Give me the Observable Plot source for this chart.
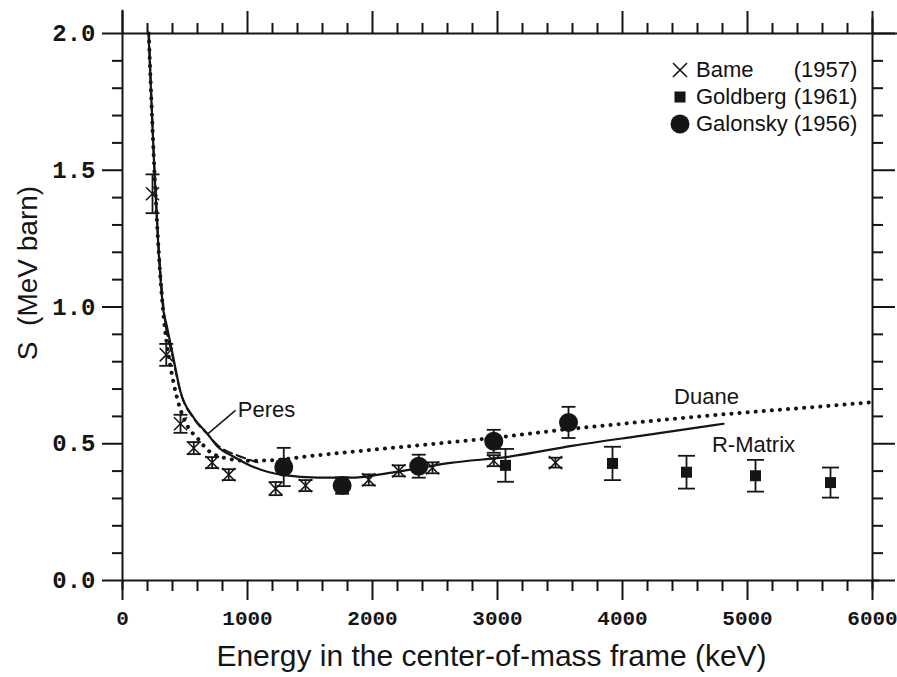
<!DOCTYPE html>
<html>
<head>
<meta charset="utf-8">
<script src="https://cdn.jsdelivr.net/npm/d3@7"></script>
<script src="https://cdn.jsdelivr.net/npm/@observablehq/plot@0.6"></script>
<style>
  html, body { margin: 0; padding: 0; background: #fff; }
  #chart { position: relative; width: 897px; height: 677px; overflow: hidden; }
  #legend {
    position: absolute; left: 664px; top: 56px;
    font-family: "Liberation Sans", Arial, sans-serif; font-size: 22px; color: #111;
    border-collapse: collapse;
  }
  #legend td { padding: 0; height: 27px; line-height: 27px; vertical-align: middle; }
  #legend td.sym { width: 32px; text-align: center; }
  #legend td.sym svg { display: block; margin: 0 auto; }
  #legend td.yr { text-align: right; padding-left: 6px; }
</style>
</head>
<body>
<div id="chart"></div>
<script>
// Bame (1957): energy (keV), S-factor (MeV barn), error
const bameE   = [240, 350, 464, 570, 717, 850, 1225, 1464, 1970, 2210, 2480, 2970, 3464];
const bameS   = [1.414, 0.825, 0.573, 0.484, 0.431, 0.387, 0.336, 0.347, 0.368, 0.401, 0.412, 0.438, 0.431];
const bameErr = [0.071, 0.040, 0.033, 0.022, 0.020, 0.020, 0.024, 0.020, 0.020, 0.020, 0.020, 0.020, 0.018];

// Goldberg (1961)
const goldE   = [3064, 3920, 4512, 5064, 5664];
const goldS   = [0.421, 0.428, 0.396, 0.383, 0.358];
const goldErr = [0.060, 0.061, 0.060, 0.058, 0.055];

// Galonsky (1956)
const galE   = [1290, 1757, 2370, 2970, 3568];
const galS   = [0.415, 0.347, 0.418, 0.509, 0.578];
const galErr = [0.070, 0.030, 0.042, 0.042, 0.057];

// R-Matrix fit (solid)
const rmatE = [208, 255, 288, 328, 350, 400, 464, 570, 680, 760, 900, 1024, 1290, 1560, 1824, 2090, 2360, 2624, 3080, 3608, 4144, 4808];
const rmatS = [2.0, 1.5, 1.21, 0.985, 0.94, 0.83, 0.69, 0.595, 0.536, 0.49, 0.45, 0.42, 0.385, 0.376, 0.376, 0.39, 0.41, 0.43, 0.452, 0.493, 0.529, 0.573];

// Duane calculation (dotted)
const duaneE = [210, 250, 290, 330, 370, 410, 460, 520, 600, 700, 800, 1000, 1200, 1500, 2000, 2500, 3000, 3500, 4000, 4500, 5000, 5500, 6000];
const duaneS = [2.0, 1.55, 1.2, 0.96, 0.82, 0.72, 0.63, 0.565, 0.52, 0.47, 0.45, 0.438, 0.44, 0.455, 0.478, 0.5, 0.523, 0.55, 0.573, 0.595, 0.615, 0.633, 0.652];

// Peres calculation (dashed)
const peresE = [212, 256, 330, 400, 470, 570, 680, 768, 920, 1000, 1080];
const peresS = [2.0, 1.5, 0.99, 0.82, 0.68, 0.592, 0.535, 0.492, 0.457, 0.444, 0.432];

// Axis ticks
const xMajor = [0, 1000, 2000, 3000, 4000, 5000, 6000];
const xMinor = d3.range(0, 6001, 200).filter(v => v % 1000 !== 0);
const yMajor = [0, 0.5, 1.0, 1.5, 2.0];
const yMinor = d3.range(0, 2.001, 0.1).map(v => +v.toFixed(1)).filter(v => Math.round(v * 10) % 5 !== 0);

// Legend entries
const legendNames = ["Bame", "Goldberg", "Galonsky"];
const legendYears = ["(1957)", "(1961)", "(1956)"];

// Curve labels (placed in data space)
const curveLabels = [
  {E: 4672, S: 0.672, text: "Duane"},
  {E: 5048, S: 0.497, text: "R-Matrix"},
  {E: 1152, S: 0.622, text: "Peres"}
];
const peresLeader = {E1: 904, S1: 0.622, E2: 680, S2: 0.535};

const zipSeries = (E, S, err) => E.map((e, i) => ({E: e, S: S[i], err: err ? err[i] : 0}));
const bame = zipSeries(bameE, bameS, bameErr);
const gold = zipSeries(goldE, goldS, goldErr);
const gal  = zipSeries(galE, galS, galErr);
const rmat = zipSeries(rmatE, rmatS);
const duane = zipSeries(duaneE, duaneS);
const peres = zipSeries(peresE, peresS);

// horizontal cap for error bars; width follows the dot radius
const capSymbol = {
  draw(context, size) {
    const r = Math.sqrt(size / Math.PI);
    context.moveTo(-r, 0);
    context.lineTo(r, 0);
  }
};

const ink = "#151515";
const monoFont = "'Liberation Mono', 'Courier New', monospace";
const sansFont = "'Liberation Sans', Arial, sans-serif";

function errorBars(data, capR) {
  return [
    Plot.ruleX(data, {x: "E", y1: d => d.S - d.err, y2: d => d.S + d.err, stroke: ink, strokeWidth: 1.8}),
    Plot.dot(data, {x: "E", y: d => d.S + d.err, symbol: capSymbol, r: capR, fill: "none", stroke: ink, strokeWidth: 1.8}),
    Plot.dot(data, {x: "E", y: d => d.S - d.err, symbol: capSymbol, r: capR, fill: "none", stroke: ink, strokeWidth: 1.8})
  ];
}

const chart = Plot.plot({
  width: 897,
  height: 677,
  marginLeft: 122,
  marginRight: 25,
  marginTop: 33,
  marginBottom: 97,
  x: {domain: [0, 6000]},
  y: {domain: [0, 2]},
  style: {background: "transparent", color: ink, overflow: "visible"},
  marks: [
    // frame
    Plot.ruleX([0], {y1: -0.036, y2: 2.085, stroke: ink, strokeWidth: 2}),
    Plot.ruleX([6000], {y1: -0.036, y2: 2.055, stroke: ink, strokeWidth: 2}),
    Plot.ruleY([0], {x1: 0, x2: 6060, stroke: ink, strokeWidth: 2}),
    Plot.ruleY([2], {x1: 0, x2: 6200, stroke: ink, strokeWidth: 2}),

    // ticks: left
    Plot.axisY({anchor: "left", ticks: yMajor, tickSize: 20, label: null, tickFormat: () => "", strokeWidth: 2}),
    Plot.axisY({anchor: "left", ticks: yMinor, tickSize: 10, label: null, tickFormat: () => "", strokeWidth: 2}),
    Plot.text(yMajor, {y: d => d, frameAnchor: "left", dx: -27, textAnchor: "end", text: d => d.toFixed(1),
      fontSize: 24, fontFamily: monoFont, fontWeight: "bold", fill: ink}),
    // ticks: right
    Plot.axisY({anchor: "right", ticks: yMajor, tickSize: 22, label: null, tickFormat: () => "", strokeWidth: 2}),
    Plot.axisY({anchor: "right", ticks: yMinor, tickSize: 10, label: null, tickFormat: () => "", strokeWidth: 2}),
    // ticks: bottom
    Plot.axisX({anchor: "bottom", ticks: xMajor, tickSize: 20, label: null, tickFormat: () => "", strokeWidth: 2}),
    Plot.axisX({anchor: "bottom", ticks: xMinor, tickSize: 11, label: null, tickFormat: () => "", strokeWidth: 2}),
    Plot.text(xMajor, {x: d => d, frameAnchor: "bottom", dy: 38, textAnchor: "middle", lineAnchor: "middle",
      text: d => String(d), fontSize: 21, fontFamily: monoFont, fontWeight: "bold", fill: ink}),
    // ticks: top
    Plot.axisX({anchor: "top", ticks: xMajor, tickSize: 23, label: null, tickFormat: () => "", strokeWidth: 2}),
    Plot.axisX({anchor: "top", ticks: xMinor, tickSize: 11, label: null, tickFormat: () => "", strokeWidth: 2}),

    // theory curves
    Plot.line(duane, {x: "E", y: "S", curve: "monotone-x", stroke: ink, strokeWidth: 4,
      strokeDasharray: "0.1 8", strokeLinecap: "round"}),
    Plot.line(peres, {x: "E", y: "S", curve: "monotone-x", stroke: ink, strokeWidth: 2, strokeDasharray: "9 5"}),
    Plot.line(rmat, {x: "E", y: "S", curve: "monotone-x", stroke: ink, strokeWidth: 2.2}),

    // error bars
    ...errorBars(bame, 7),
    ...errorBars(gal, 7),
    ...errorBars(gold, 8.5),

    // data points
    Plot.dot(bame, {x: "E", y: "S", symbol: "times", r: 6, stroke: ink, strokeWidth: 1.5}),
    Plot.dot(gold, {x: "E", y: "S", symbol: "square", r: 6.2, fill: ink, stroke: "none"}),
    Plot.dot(gal, {x: "E", y: "S", symbol: "circle", r: 9.5, fill: ink, stroke: "none"}),

    // curve labels
    Plot.text(curveLabels, {x: "E", y: "S", text: "text", fontSize: 22, fontFamily: sansFont, fill: ink}),
    Plot.link([peresLeader], {x1: "E1", y1: "S1", x2: "E2", y2: "S2", stroke: ink, strokeWidth: 1.5}),

    // axis titles
    Plot.text(["Energy in the center-of-mass frame (keV)"], {frameAnchor: "bottom", dx: -6, dy: 76,
      textAnchor: "middle", lineAnchor: "middle", fontSize: 30, fontFamily: sansFont, fill: ink}),
    Plot.text(["S  (MeV barn)"], {frameAnchor: "left", rotate: -90, dx: -94, dy: -34,
      textAnchor: "middle", lineAnchor: "middle", fontSize: 28, fontFamily: sansFont, fill: ink})
  ]
});

const holder = document.getElementById("chart");
holder.appendChild(chart);

// legend overlay
const symbolSvg = [
  `<svg width="18" height="18" viewBox="-9 -9 18 18"><path d="M-7,-7L7,7M-7,7L7,-7" stroke="${ink}" stroke-width="1.6"/></svg>`,
  `<svg width="14" height="14" viewBox="-7 -7 14 14"><rect x="-5.5" y="-5.5" width="11" height="11" fill="${ink}"/></svg>`,
  `<svg width="20" height="20" viewBox="-10 -10 20 20"><circle r="9.5" fill="${ink}"/></svg>`
];
const table = document.createElement("table");
table.id = "legend";
legendNames.forEach((name, i) => {
  const tr = document.createElement("tr");
  tr.innerHTML = `<td class="sym">${symbolSvg[i]}</td><td>${name}</td><td class="yr">${legendYears[i]}</td>`;
  table.appendChild(tr);
});
holder.appendChild(table);
</script>
</body>
</html>
